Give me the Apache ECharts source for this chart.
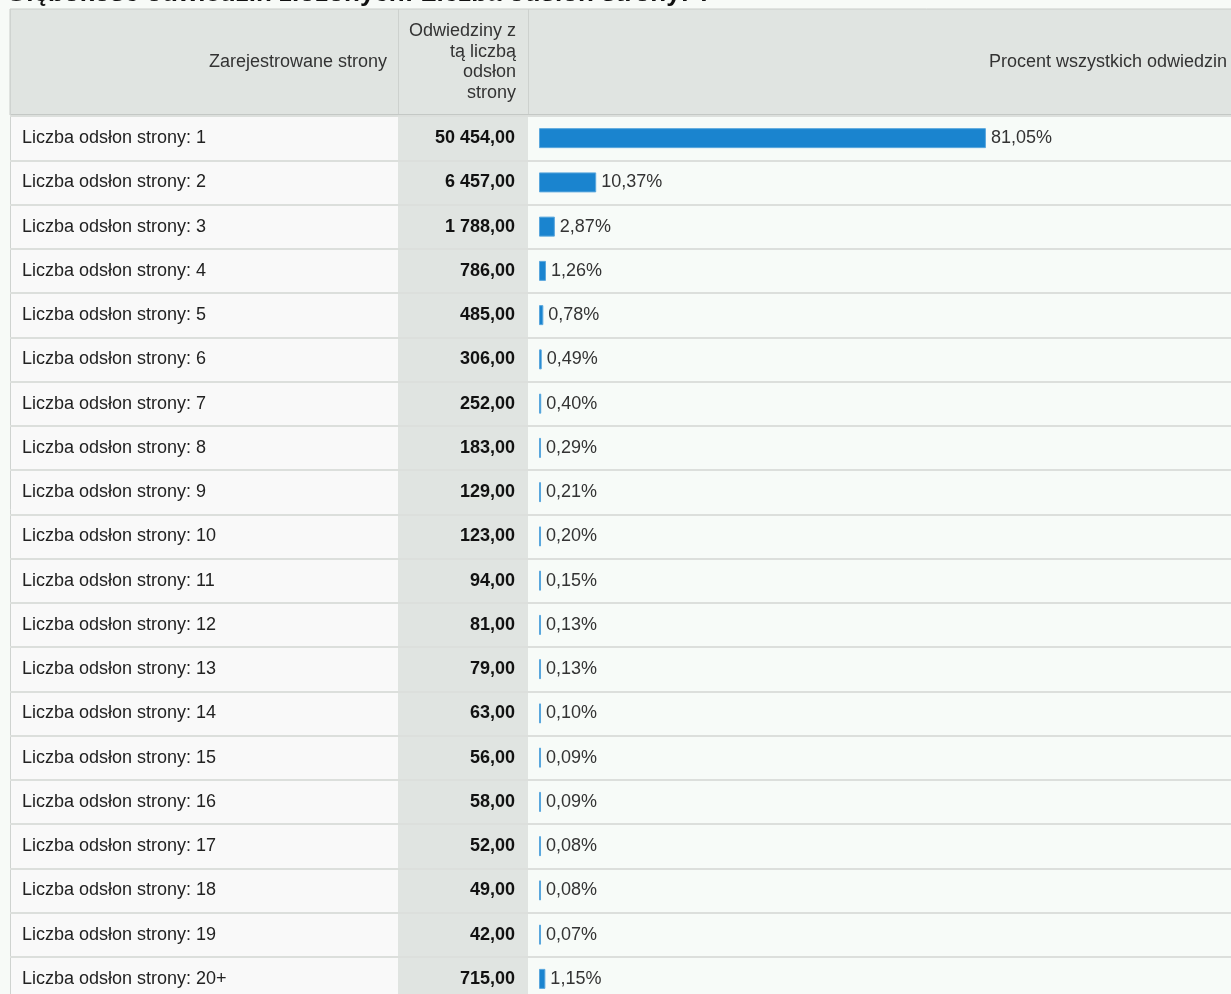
<!DOCTYPE html>
<html>
<head>
<meta charset="utf-8">
<script src="https://cdn.jsdelivr.net/npm/echarts@6/dist/echarts.min.js"></script>
<style>
html,body{margin:0;padding:0;background:#f7faf7;overflow:hidden;}
#chart{width:1231px;height:1010px;}
</style>
</head>
<body>
<div id="chart"></div>
<script>
const titleText = 'Głębokość odwiedzin złożonych: Liczba odsłon strony: ?';
const headerPages = 'Zarejestrowane strony';
const headerVisits = 'Odwiedziny z\ntą liczbą\nodsłon\nstrony';
const headerPercent = 'Procent wszystkich odwiedzin';

const categories = [
  'Liczba odsłon strony: 1','Liczba odsłon strony: 2','Liczba odsłon strony: 3',
  'Liczba odsłon strony: 4','Liczba odsłon strony: 5','Liczba odsłon strony: 6',
  'Liczba odsłon strony: 7','Liczba odsłon strony: 8','Liczba odsłon strony: 9',
  'Liczba odsłon strony: 10','Liczba odsłon strony: 11','Liczba odsłon strony: 12',
  'Liczba odsłon strony: 13','Liczba odsłon strony: 14','Liczba odsłon strony: 15',
  'Liczba odsłon strony: 16','Liczba odsłon strony: 17','Liczba odsłon strony: 18',
  'Liczba odsłon strony: 19','Liczba odsłon strony: 20+'
];
const visits = [50454, 6457, 1788, 786, 485, 306, 252, 183, 129, 123, 94, 81, 79, 63, 56, 58, 52, 49, 42, 715];
const percents = [81.05, 10.37, 2.87, 1.26, 0.78, 0.49, 0.40, 0.29, 0.21, 0.20, 0.15, 0.13, 0.13, 0.10, 0.09, 0.09, 0.08, 0.08, 0.07, 1.15];

function fmtNum(v) {
  const s = Math.round(v).toString().replace(/\B(?=(\d{3})+(?!\d))/g, ' ');
  return s + ',00';
}
function fmtPct(v) {
  return v.toFixed(2).replace('.', ',') + '%';
}
const visitLabels = visits.map(fmtNum);

const FONT = 'Liberation Sans, Arial, sans-serif';
const chart = echarts.init(document.getElementById('chart'));

const option = {
  backgroundColor: '#f7faf7',
  animation: false,
  textStyle: { fontFamily: FONT },
  graphic: [
    { type: 'rect', z: -10, shape: { x: 10, y: 116, width: 388, height: 900 }, style: { fill: '#f9f9f9' } },
    { type: 'rect', z: -10, shape: { x: 398, y: 116, width: 130, height: 900 }, style: { fill: '#e0e4e1' } },
    { type: 'rect', z: -10, shape: { x: 528, y: 116, width: 710, height: 900 }, style: { fill: '#f7fbf8' } },
    { type: 'rect', z: -9, shape: { x: 10, y: 9, width: 1230, height: 106 }, style: { fill: '#e0e4e1', stroke: '#c8ccc9', lineWidth: 1 } },
    { type: 'rect', z: -8, shape: { x: 10, y: 114, width: 1230, height: 2 }, style: { fill: '#c4c8c5' } },
    { type: 'line', z: -8, shape: { x1: 398.5, y1: 9, x2: 398.5, y2: 114 }, style: { stroke: '#cdd1ce', lineWidth: 1 } },
    { type: 'line', z: -8, shape: { x1: 528.5, y1: 9, x2: 528.5, y2: 114 }, style: { stroke: '#cdd1ce', lineWidth: 1 } },
    { type: 'line', z: -8, shape: { x1: 10.5, y1: 9, x2: 10.5, y2: 1010 }, style: { stroke: '#cfd3d0', lineWidth: 1 } },
    { type: 'text', z: 5, x: 6, y: -19, style: { text: titleText, font: 'bold 26px ' + FONT, fill: '#111', textVerticalAlign: 'top' } },
    { type: 'text', z: 5, x: 387, y: 62, style: { text: headerPages, font: '18px ' + FONT, fill: '#333', textAlign: 'right', textVerticalAlign: 'middle' } },
    { type: 'text', z: 5, x: 516, y: 62, style: { text: headerVisits, font: '18px ' + FONT, fill: '#333', textAlign: 'right', textVerticalAlign: 'middle', lineHeight: 20.7 } },
    { type: 'text', z: 5, x: 1227, y: 62, style: { text: headerPercent, font: '18px ' + FONT, fill: '#333', textAlign: 'right', textVerticalAlign: 'middle' } }
  ],
  grid: [
    { left: 10, top: 116, width: 518, height: 885 },
    { left: 528, top: 116, right: 0, height: 885 }
  ],
  xAxis: [
    { gridIndex: 0, type: 'value', min: 0, max: 1, show: false },
    { gridIndex: 1, type: 'value', min: -2, max: 125.5, show: false }
  ],
  yAxis: [
    {
      gridIndex: 0, type: 'category', data: categories, inverse: true, position: 'left',
      axisLine: { show: false }, axisTick: { show: false },
      axisLabel: { inside: true, margin: 12, color: '#222', fontSize: 18, fontFamily: FONT },
      splitLine: { show: true, lineStyle: { color: '#dcdfdc', width: 2 } }
    },
    {
      gridIndex: 0, type: 'category', data: visitLabels, inverse: true, position: 'right',
      axisLine: { show: false }, axisTick: { show: false },
      axisLabel: { inside: true, margin: 13, color: '#111', fontSize: 18, fontWeight: 'bold', fontFamily: FONT },
      splitLine: { show: false }
    },
    {
      gridIndex: 1, type: 'category', data: categories, inverse: true,
      axisLine: { show: false }, axisTick: { show: false }, axisLabel: { show: false },
      splitLine: { show: true, lineStyle: { color: '#dcdfdc', width: 2 } }
    }
  ],
  series: [
    {
      type: 'scatter', xAxisIndex: 0, yAxisIndex: 0, data: [], silent: true
    },
    {
      type: 'bar', xAxisIndex: 1, yAxisIndex: 2, data: percents,
      barWidth: 20, barMinHeight: 2,
      itemStyle: { color: '#1a84cf', borderColor: '#5aa7dd', borderWidth: 1 },
      label: {
        show: true, position: 'right', distance: 5, color: '#333', fontSize: 18, fontFamily: FONT,
        formatter: p => fmtPct(p.value)
      }
    }
  ]
};
chart.setOption(option);
</script>
</body>
</html>
